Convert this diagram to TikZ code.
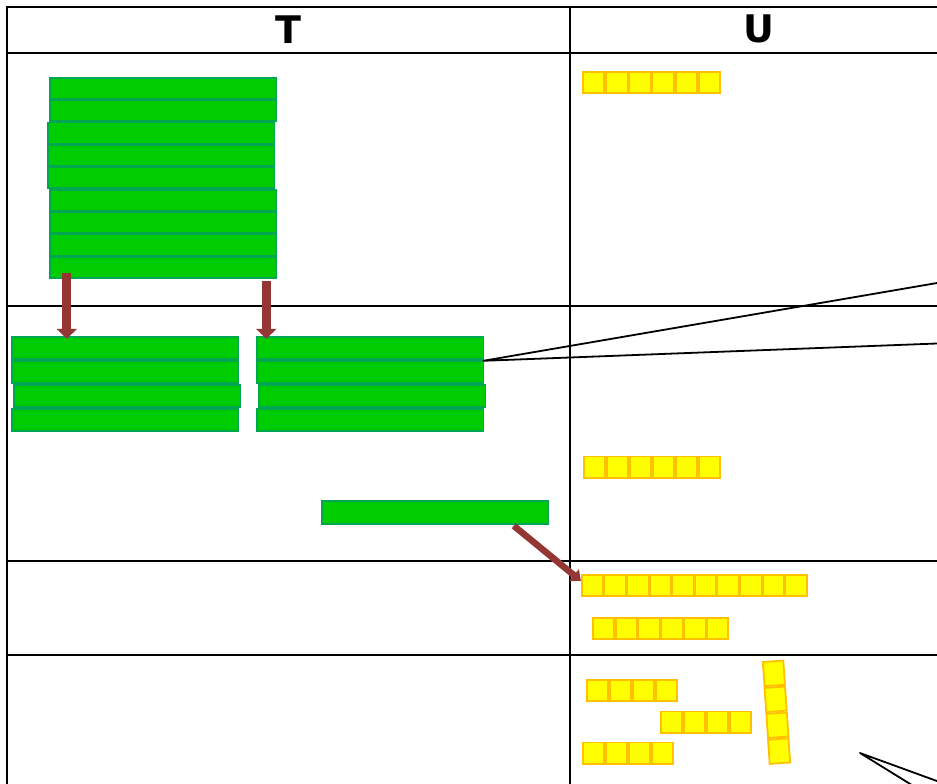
\documentclass[tikz,border=0pt]{standalone}
\usepackage{fontspec}
\setmainfont{DejaVu Sans}
\usetikzlibrary{arrows.meta,calc}
\definecolor{gfill}{RGB}{0,204,0}
\definecolor{gline}{RGB}{0,166,81}
\definecolor{yfill}{RGB}{255,255,0}
\definecolor{yline}{RGB}{255,192,0}
\definecolor{arr}{RGB}{148,54,52}
\newcommand\yrow[5]{%
  \foreach \i in {1,...,#4} {%
    \node[ysq] (#1-\i) at ({#2+0.9+(\i-1)*#5}, #3+0.9) {};}}
\begin{document}
\begin{tikzpicture}[x=1pt,y=-1pt,
  gbar/.style={draw=gline, fill=gfill, line width=1.6pt, minimum width=226.5pt,
    minimum height=20.8pt, inner sep=0pt, outer sep=0pt, anchor=north west},
  ysq/.style={draw=yline, fill=yfill, line width=1.8pt, minimum size=21.4pt,
    inner sep=0pt, outer sep=0pt, anchor=north west},
  ycol/.style={draw=yline, fill=yfill, line width=1.8pt, minimum width=20.5pt,
    minimum height=24.2pt, inner sep=0pt, outer sep=0pt, rotate=4, anchor=center},
  gridline/.style={line width=1.8pt, black},
  thin/.style={line width=1.8pt, black, line join=round},
  bigarrow/.style={draw=arr, line width=9pt, -{Triangle[width=20pt,length=10pt]}},
  diagarrow/.style={draw=arr, line width=6.5pt, -{Triangle[width=15pt,length=9pt]}},
  head/.style={font=\bfseries\fontsize{38}{40}\selectfont, inner sep=0pt}]
\useasboundingbox (0,0) rectangle (937,784);
\fill[white] (0,0) rectangle (937,784);

% table
\draw[gridline] (7,7) -- (950,7);
\draw[gridline] (7,53) -- (950,53);
\draw[gridline] (7,306) -- (950,306);
\draw[gridline] (7,561) -- (950,561);
\draw[gridline] (7,655) -- (950,655);
\draw[gridline] (7,6.1) -- (7,800);
\draw[gridline] (570,7) -- (570,800);
\node[head] (hT) at (288.3,29.3) {T};
\node[head] (hU) at (759,29.3) {U};

% top green stack
\foreach \n/\x/\y in {1/49/77, 2/49/99.4, 3/47/121.8, 4/47/144.2, 5/47/166.6,
                     6/49/189, 7/49/211.4, 8/49/233.8, 9/49/256.2}
  \node[gbar] (t\n) at ({\x+0.8},{\y+0.8}) {};

% lower left stack
\foreach \n/\x/\y in {1/11/336, 2/11/360, 3/13/384, 4/11/408}
  \node[gbar, minimum height=22.4pt] (l\n) at ({\x+0.8},{\y+0.8}) {};
% lower right stack
\foreach \n/\x/\y in {1/256/336, 2/256/360, 3/258/384, 4/256/408}
  \node[gbar, minimum height=22.4pt] (r\n) at ({\x+0.8},{\y+0.8}) {};
% single bar
\node[gbar, minimum height=23pt] (s) at (321.8,500.8) {};

% arrows
\draw[bigarrow] ([xshift=17pt,yshift=5pt]t9.south west) -- ([xshift=55pt,yshift=-2pt]l1.north west);
\draw[bigarrow] ([xshift=216.5pt,yshift=-3pt]t9.south west) -- ([xshift=9.5pt,yshift=-2pt]r1.north west);

% yellow rows
\yrow{ya}{582}{71}{6}{23.2}
\yrow{yb}{583}{455.5}{6}{23}
\yrow{yc}{581}{574}{10}{22.6}
\yrow{yd}{592}{617}{6}{22.8}
\yrow{ye}{586}{679}{4}{23}
\yrow{yf}{660}{710.5}{4}{23}
\yrow{yg}{582}{741.5}{4}{23}
\node[ycol] (yh-1) at (773.9,673.4) {};
\node[ycol] (yh-2) at (775.6,699.3) {};
\node[ycol] (yh-3) at (777.4,725.2) {};
\node[ycol] (yh-4) at (779.1,751.1) {};

\draw[diagarrow] ([xshift=192pt,yshift=-2pt]s.south west) -- ([xshift=-1pt,yshift=-6pt]yc-1.north west);

% long lines
\coordinate (p1) at (937,283);
\coordinate (p2) at (937,343.5);
\draw[thin] (p1) -- (r2.north east) -- (p2);
\coordinate (q0) at (860,753);
\coordinate (q1) at (960,789.4);
\coordinate (q2) at (928,795);
\draw[thin] (q1) -- (q0) -- (q2);
\end{tikzpicture}
\end{document}
